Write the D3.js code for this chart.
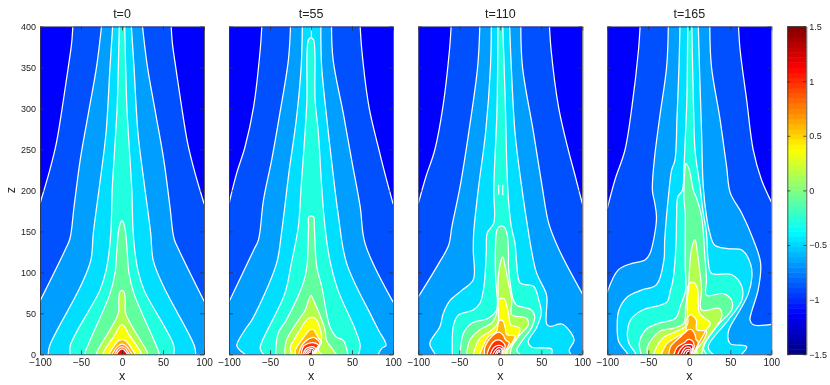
<!DOCTYPE html>
<html>
<head>
<meta charset="UTF-8">
<script src="https://d3js.org/d3.v7.min.js"></script>
<style>
  html, body { margin: 0; padding: 0; background: #fff; }
  svg { display: block; filter: blur(0.3px); }
  text { font-family: "Liberation Sans", Arial, sans-serif; fill: #222; }
  .domain, .tick line { stroke: #333; stroke-width: 0.8; }
  .xaxis .tick text { font-size: 10px; }
  .zaxis .tick text, .baraxis .tick text { font-size: 9px; }
</style>
</head>
<body>
<svg id="chart" width="830" height="385"></svg>
<script>
// panel titles and axis ticks
const titles = ["t=0", "t=55", "t=110", "t=165"];
const xTicks = [-100, -50, 0, 50, 100];
const zTicks = [0, 50, 100, 150, 200, 250, 300, 350, 400];
const barTicks = [-1.5, -1, -0.5, 0, 0.5, 1, 1.5];
const barLabels = ["\u22121.5", "\u22121", "\u22120.5", "0", "0.5", "1", "1.5"];

// value painted between contours, outermost (background) first
const fillValues = [-1.125, -0.89, -0.66, -0.47, -0.28, -0.09, 0.15, 0.36, 0.58, 0.78, 0.98, 1.15, 1.3, 1.42, 1.5];

// every contour is [left branch, right branch], each going from top to bottom, points are [x, z]
const contoursT0 = [
  [[[-60,400],[-61.4,380],[-65.4,351],[-71.5,310],[-80,258],[-88,225],[-100,184]], [[60,400],[61.4,380],[65.4,351],[71.5,310],[80,258],[88,225],[100,184]]],
  [[[-25,400],[-31,351],[-41,294],[-51,237],[-58.5,180],[-63.5,141],[-69.5,127],[-100,65]], [[25,400],[31,351],[41,294],[51,237],[58.5,180],[63.5,141],[69.5,127],[100,65]]],
  [[[-11.4,400],[-14.6,351],[-19.5,270],[-27,209],[-35,148],[-38,115],[-51,82],[-88,11],[-90,0]], [[11.4,400],[14.6,351],[19.5,270],[27,209],[35,148],[38,115],[51,82],[88,11],[90,0]]],
  [[[-3.3,400],[-4.5,350],[-6,300],[-9,250],[-12,200],[-13.5,150],[-16,123],[-20,100],[-27,78],[-63,11],[-63,0]], [[3.3,400],[4.5,350],[6,300],[9,250],[12,200],[13.5,150],[16,123],[20,100],[27,78],[63,11],[63,0]]],
  [[[0,163],[-2,160],[-4.5,148],[-6.5,123],[-8.5,99],[-14.6,74],[-45,2],[-45,0]], [[2,160],[4.5,148],[6.5,123],[8.5,99],[14.6,74],[45,2],[45,0]]],
  [[[0,78],[-2.5,76],[-4,66],[-4.5,50],[-31,2],[-31,0]], [[2.5,76],[4,66],[4.5,50],[31,2],[31,0]]],
  [[[0,36],[-3,34],[-8,25],[-23,2],[-23,0]], [[3,34],[8,25],[23,2],[23,0]]],
  [[[0,18],[-4,17],[-15,2],[-16,0]], [[4,17],[15,2],[16,0]]],
  [[[0,12.5],[-5,10],[-12,0]], [[5,10],[12,0]]],
  [[[0,9],[-4,7.5],[-9,0]], [[4,7.5],[9,0]]],
  [[[0,6.5],[-3,5],[-7,0]], [[3,5],[7,0]]]
];
const contoursT55 = [
  [[[-60,400],[-62,371],[-70,302],[-80.5,253],[-90.6,221],[-100,184]], [[60,400],[62,371],[70.7,302],[82,253],[90,221],[100,184]]],
  [[[-25,400],[-27.6,359],[-38,294],[-48,237],[-58,188],[-64,140],[-70,127],[-100,64]], [[25,400],[27,359],[39.4,294],[49.6,237],[60,180],[66,135],[100,64]]],
  [[[-10.6,400],[-12,351],[-17.5,290],[-27,221],[-36,148],[-42,111],[-72,42],[-80.5,30],[-90.6,11],[-88.6,7],[-80.5,0]], [[12,400],[13,351],[19,290],[25,237],[33,172],[43.5,111],[74,46],[82,30],[91.5,11],[86,7],[82,0]]],
  [[[0,386],[-3,384],[-5,310],[-7.3,270],[-12,205],[-15.4,156],[-24,111],[-32,74],[-60,15],[-62,7],[-58,0]], [[3,384],[5,310],[9,270],[13,205],[17,156],[23,115],[33,78],[54,30],[60,11],[58,0]]],
  [[[-2.5,168],[-3,156],[-5,107],[-9.4,87],[-30,42],[-40,26],[-43,0]], [[3,168],[4,156],[7,107],[13,83],[23,34],[31,21],[39.4,17],[45,0]]],
  [[[0,72],[-3,66],[-7,54],[-15,42],[-30,17],[-32,0]], [[3,66],[10,50],[17,30],[19,17],[25,8],[31,0]]],
  [[[-3,44],[-17,24],[-25,9],[-24,0]], [[5,44],[13,21.5],[11,13],[9,5],[13,0]]],
  [[[-1,30],[-5,26],[-13,15],[-19,5],[-19,0]], [[3,30],[9,20],[13,15],[8,7],[5,0]]],
  [[[0,20],[-11,11],[-15,0]], [[5,20],[11,13],[7,7],[3,0]]],
  [[[-1,14],[-9,10],[-12,0]], [[4,14],[9,11],[5,5],[2,0]]],
  [[[-1,9],[-6,7],[-10,0]], [[3,9],[6,6],[3,0]]],
  [[[-1,7],[-5,5],[-8,0]], [[2,7],[4,4],[2,0]]],
  [[[-1,5],[-4,3],[-6,0]], [[1,5],[2,3],[1,0]]],
  [[[-1,3],[-3,1.5],[-4,0]], [[1,2.5],[1.5,0]]]
];
const contoursT110 = [
  [[[-60,400],[-62,371],[-70,302],[-80,249],[-90.6,217],[-100,184]], [[60,400],[62,371],[71,302],[82,253],[91.5,217],[100,184]]],
  [[[-25,400],[-27.6,351],[-38.6,270],[-49,205],[-59,156],[-63,133],[-75,111],[-100,70]], [[25,400],[27,351],[40.6,270],[51,205],[59,160],[71,129],[100,74]]],
  [[[-11,400],[-12,351],[-18,270],[-26.4,205],[-32.5,148],[-33,127],[-33,91],[-47,78],[-61,66],[-69.5,50],[-73.6,34],[-86,13],[-80,1],[-80,0]], [[11.4,400],[13.4,351],[18,270],[26,205],[34.5,148],[38,127],[44,100],[56,74],[57,66],[56.5,37],[60.5,34],[75,37],[85,28],[90,17],[84,5],[86,0]]],
  [[[-3,400],[-4,300],[-7,229],[-8,200],[-8,160],[-16,148],[-17,127],[-19,91],[-20.7,78],[-25,62],[-33,54],[-51,48],[-57,36],[-58.5,0]], [[3,400],[6,310],[8,229],[10,188],[13.4,156],[18,135],[20,111],[24.4,87],[40.6,83],[47,66],[50,50],[44,32],[34,15.4],[38,9],[62.6,6.5],[62.6,0]]],
  [[[-1,156],[-4,152],[-6,127],[-5.5,90],[-4.5,78],[-4.5,54],[-14.6,44],[-35,38],[-45,25.6],[-49,0]], [[4,156],[8,148],[10,123],[10,107],[12.6,83],[16,66],[20,60],[38,54],[42,46],[38,32],[26,15.4],[20,5],[24,0]]],
  [[[3,119],[-2,99],[-3,66],[-4.5,50],[-10.6,38],[-25,30],[-37,17.5],[-41,0]], [[6,107],[10,87],[14,66],[14,48],[32,44],[34,36],[24,23.6],[14,9],[12,0]]],
  [[[0,68],[-2.4,66],[-3,38],[-12.6,28],[-25,19.5],[-33,0]], [[4.5,68],[10,50],[13,36],[23.6,32],[21.5,21.5],[9,5],[8,0]]],
  [[[-1.6,41],[-4.5,28],[-14.6,21.5],[-25,0]], [[3,41],[6,32],[8,24],[18,22],[15,15],[7,3],[6,0]]],
  [[[-2,27],[-8.5,23.6],[-18.7,9],[-19.5,0]], [[3,24],[7,17],[11,14],[5,3],[4,0]]],
  [[[-3,17.5],[-8.5,15],[-14.6,5],[-16,0]], [[3,15],[6,10],[3,2],[3,0]]],
  [[[-2,11],[-8,8],[-12,0]], [[3,9],[2,0]]],
  [[[-2,8],[-6,5],[-9,0]], [[2,6],[1,0]]],
  [[[-2,5],[-4,4],[-6,0]], [[1,4],[1,0]]],
  [[[-2,3],[-3.5,1.5],[-4,0]], [[0,2.5],[0,0]]]
];
const contoursT165 = [
  [[[-60,400],[-62,371],[-70,302],[-78.5,249],[-90.6,213],[-100,178]], [[60,400],[62,371],[70,310],[78,249],[88,213],[100,186]]],
  [[[-25.6,400],[-27.6,351],[-36,290],[-42.7,237],[-45,200],[-42,184],[-40,168],[-42,148],[-48,123],[-54,115],[-70,111],[-86.6,103],[-100,76]], [[25,400],[27,351],[37,290],[45.5,229],[50,197],[64,172],[78,140],[87,111],[84,79],[76,52],[74,42],[78,36],[100,36.6]]],
  [[[-11.4,400],[-12.6,351],[-15,290],[-17.5,237],[-21.5,225],[-25,197],[-30,140],[-31,115],[-40,85],[-59,78],[-75.6,70],[-85.8,54],[-88,34],[-86,15.4],[-75.6,1],[-75.6,0]], [[11,400],[13,331],[15,270],[17,205],[21,168],[25,148],[31,133],[47,129],[64.6,127],[74.8,110],[76.4,95],[72,74],[61.8,54],[47.6,27.6],[49.6,13.4],[70,9.3],[64,0]]],
  [[[-2,400],[-3,310],[-5,262],[-6.5,229],[-8.5,200],[-14,192],[-15.5,168],[-16,140],[-18,107],[-20,90],[-23,78],[-27,64],[-35,60],[-57,54],[-71.5,42],[-75.6,25.6],[-73.6,13.4],[-65.5,1],[-65.5,0]], [[3,400],[5,310],[7,249],[13,205],[17,172],[21,148],[23,115],[27,99],[52,97],[64,83],[64,66],[47.6,42],[23,9],[29,0]]],
  [[[-4,233],[-6,215],[-6.5,190],[-5,172],[-5,148],[-5,107],[-4.5,78],[-10.6,60],[-16.7,44],[-37,38],[-53,30],[-61,13.4],[-59,1],[-59,0]], [[0,225],[5,200],[9,190],[15,168],[19,119],[21,91],[21,72],[41.5,74],[51.6,66],[51.6,54],[35,36],[17,9],[21,0]]],
  [[[7,140],[3,130],[0,100],[-1,78],[-4.5,58],[-6.5,38],[-18.7,32],[-37,27.6],[-51,9],[-51,0]], [[10,123],[13,100],[15,80],[15,54],[37,56],[39.5,46],[19,13],[15,0]]],
  [[[4.5,88],[0,86],[-2.4,80],[-2.4,50],[-2.4,36],[-16.7,27.6],[-33,19.5],[-43,1],[-43,0]], [[10,80],[12.6,50],[25.6,38],[21,30],[9,7],[10,0]]],
  [[[1.6,48],[-3.6,42],[-4.5,27.6],[-14.6,21.5],[-27,13.4],[-34,0]], [[8.5,42],[9,30],[21,28],[17.5,17.5],[7,3],[7,0]]],
  [[[-1,30],[-3.6,28],[-10.6,21.5],[-23,9],[-25,0]], [[3,30],[7,24],[8.5,17.5],[11,15],[6,3],[4.5,0]]],
  [[[-2,18],[-5,15],[-14.6,9],[-18.7,0]], [[3,17],[6,11],[3,0]]],
  [[[-2,12],[-6,11],[-11,6],[-14,0]], [[4,11],[2,0]]],
  [[[-2,9],[-6,7],[-10,0]], [[2,7],[1,0]]],
  [[[-2,6],[-5,4],[-7,0]], [[1,5],[1,0]]],
  [[[-2,3.5],[-4,0]], [[0.5,3],[0.5,0]]]
];
// short stray contour pieces that stand alone
const strayT55 = [[[0.5,400],[0.5,386]]];
const strayT110 = [[[-2,207],[-2,195]], [[3,207],[3,194]]];

const panelContours = [contoursT0, contoursT55, contoursT110, contoursT165];
const panelStrays = [[], strayT55, strayT110, []];
const panelLefts = [40, 229, 418.3, 607.3];

const panelWidth = 164, plotTop = 26.5, plotBottom = 354.3;
const svg = d3.select("#chart");

// jet colormap
const jet = d3.scaleLinear()
  .domain([-1.5, -1.125, -0.375, 0, 0.375, 1.125, 1.5])
  .range(["#000080", "#0000ff", "#00ffff", "#80ff80", "#ffff00", "#ff0000", "#800000"])
  .clamp(true);

const z = d3.scaleLinear().domain([0, 400]).range([plotBottom, plotTop]);

panelContours.forEach((contours, i) => {
  const left = panelLefts[i];
  const x = d3.scaleLinear().domain([-100, 100]).range([left, left + panelWidth]);
  const g = svg.append("g");

  const clipId = "clip" + i;
  svg.append("clipPath").attr("id", clipId).append("rect")
    .attr("x", left).attr("y", plotTop).attr("width", panelWidth).attr("height", plotBottom - plotTop);

  const line = d3.line().x(d => x(d[0])).y(d => z(d[1])).curve(d3.curveCatmullRom.alpha(0.5));

  const plot = g.append("g").attr("clip-path", `url(#${clipId})`);
  plot.append("rect")
    .attr("x", left).attr("y", plotTop).attr("width", panelWidth).attr("height", plotBottom - plotTop)
    .attr("fill", jet(fillValues[0]));

  contours.forEach((c, k) => {
    const l = c[0], r = c[1];
    const lEnd = l[l.length - 1], rEnd = r[r.length - 1];
    const reachesTop = l[0][1] === 400;
    // contours that reach the top edge are two separate lines, the others one line over their tip
    const fillEdge = reachesTop
      ? line(l.slice().reverse()) + line(r).replace("M", "L")
      : line(l.slice().reverse().concat(r));
    const d = fillEdge + `L${x(rEnd[0])},${plotBottom + 20}L${x(lEnd[0])},${plotBottom + 20}Z`;
    plot.append("path").attr("d", d).attr("fill", jet(fillValues[k + 1])).attr("stroke", "none");
  });
  contours.forEach(c => {
    const l = c[0], r = c[1];
    const strokes = l[0][1] === 400 ? [l, r] : [l.slice().reverse().concat(r)];
    strokes.forEach(s => {
      plot.append("path").attr("d", line(s))
        .attr("fill", "none").attr("stroke", "#fff").attr("stroke-width", 1.25).attr("stroke-linecap", "round");
    });
  });
  panelStrays[i].forEach(s => {
    plot.append("path").attr("d", line(s))
      .attr("fill", "none").attr("stroke", "#fff").attr("stroke-width", 1.25);
  });

  // box with inward ticks on all four sides
  g.append("g").attr("class", "xaxis").attr("transform", `translate(0,${plotBottom})`)
    .call(d3.axisBottom(x).tickValues(xTicks).tickSizeInner(-4).tickSizeOuter(0).tickPadding(5).tickFormat(d3.format("d")));
  g.append("g").attr("transform", `translate(0,${plotTop})`)
    .call(d3.axisTop(x).tickValues(xTicks).tickSizeInner(-4).tickSizeOuter(0).tickFormat(""));
  g.append("g").attr("class", "zaxis").attr("transform", `translate(${left},0)`)
    .call(d3.axisLeft(z).tickValues(zTicks).tickSizeInner(-4).tickSizeOuter(0).tickPadding(4).tickFormat(i === 0 ? d3.format("d") : ""));
  g.append("g").attr("transform", `translate(${left + panelWidth},0)`)
    .call(d3.axisRight(z).tickValues(zTicks).tickSizeInner(-4).tickSizeOuter(0).tickFormat(""));

  g.append("text").attr("x", left + panelWidth / 2).attr("y", 18)
    .attr("text-anchor", "middle").attr("font-size", 12.5).text(titles[i]);
  g.append("text").attr("x", left + panelWidth / 2).attr("y", 380)
    .attr("text-anchor", "middle").attr("font-size", 12.5).text("x");
});

svg.append("text").attr("transform", "translate(15,190) rotate(-90)")
  .attr("text-anchor", "middle").attr("font-size", 12.5).text("z");

// colorbar, 64 flat bands like a matlab colormap
const barLeft = 787.3, barWidth = 19;
const bar = d3.scaleLinear().domain([-1.5, 1.5]).range([plotBottom, plotTop]);
const bands = d3.range(64);
const bandStep = 3 / 64;
svg.append("g").selectAll("rect").data(bands).join("rect")
  .attr("x", barLeft).attr("width", barWidth)
  .attr("y", d => bar(-1.5 + (d + 1) * bandStep))
  .attr("height", d => bar(-1.5 + d * bandStep) - bar(-1.5 + (d + 1) * bandStep) + 0.5)
  .attr("fill", d => jet(-1.5 + (d + 0.5) * bandStep));
svg.append("g").attr("class", "baraxis").attr("transform", `translate(${barLeft + barWidth},0)`)
  .call(d3.axisRight(bar).tickValues(barTicks).tickSizeInner(-3).tickSizeOuter(0).tickPadding(3)
    .tickFormat(d => barLabels[barTicks.indexOf(d)]));
svg.append("g").attr("transform", `translate(${barLeft},0)`)
  .call(d3.axisLeft(bar).tickValues(barTicks).tickSizeInner(-3).tickSizeOuter(0).tickFormat(""));
svg.append("line").attr("x1", barLeft).attr("x2", barLeft + barWidth).attr("y1", plotTop).attr("y2", plotTop).attr("stroke", "#333").attr("stroke-width", 0.8);
svg.append("line").attr("x1", barLeft).attr("x2", barLeft + barWidth).attr("y1", plotBottom).attr("y2", plotBottom).attr("stroke", "#333").attr("stroke-width", 0.8);
</script>
</body>
</html>
